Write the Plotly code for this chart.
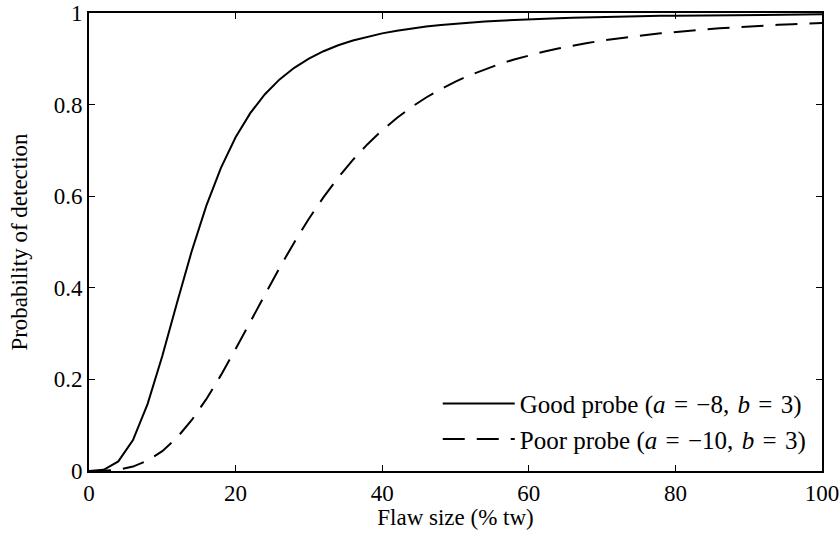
import plotly.graph_objects as go

flaw_size = [0, 2, 4, 6, 8, 10, 12, 14, 16, 18, 20, 22, 24, 26, 28, 30, 32, 34, 36, 38,
             40, 42, 44, 46, 48, 50, 52, 54, 56, 58, 60, 62, 64, 66, 68, 70, 72, 74, 76, 78,
             80, 82, 84, 86, 88, 90, 92, 94, 96, 98, 100]

pod_good = [0.0, 0.0027, 0.021, 0.0676, 0.1466, 0.2512, 0.367, 0.4793, 0.5788, 0.6618,
            0.7285, 0.7813, 0.8226, 0.855, 0.8804, 0.9006, 0.9166, 0.9295, 0.9399, 0.9485,
            0.9555, 0.9613, 0.9662, 0.9703, 0.9738, 0.9767, 0.9792, 0.9814, 0.9833, 0.985,
            0.9864, 0.9876, 0.9888, 0.9897, 0.9906, 0.9914, 0.9921, 0.9927, 0.9933, 0.9938,
            0.9942, 0.9946, 0.995, 0.9953, 0.9956, 0.9959, 0.9962, 0.9964, 0.9966, 0.9968, 0.997]

pod_poor = [0.0, 0.0004, 0.0029, 0.0097, 0.0227, 0.0434, 0.0727, 0.1108, 0.1568, 0.2093,
            0.2664, 0.3259, 0.3856, 0.4438, 0.4991, 0.5507, 0.598, 0.6409, 0.6793, 0.7136,
            0.744, 0.7708, 0.7945, 0.8155, 0.8339, 0.8502, 0.8646, 0.8773, 0.8886, 0.8986,
            0.9075, 0.9154, 0.9225, 0.9288, 0.9345, 0.9397, 0.9443, 0.9484, 0.9522, 0.9556,
            0.9588, 0.9616, 0.9642, 0.9665, 0.9687, 0.9707, 0.9725, 0.9742, 0.9757, 0.9771, 0.9784]

series_names = ["Good probe (<i>a</i>\u2004=\u2004−8,\u2004<i>b</i>\u2004=\u20043)",
                "Poor probe (<i>a</i>\u2004=\u2004−10,\u2004<i>b</i>\u2004=\u20043)"]

x_ticks = [0, 20, 40, 60, 80, 100]
y_ticks = [0, 0.2, 0.4, 0.6, 0.8, 1]
y_tick_labels = ["0", "0.2", "0.4", "0.6", "0.8", "1"]

FONT = "Liberation Serif"

fig = go.Figure()
fig.add_trace(go.Scatter(x=flaw_size, y=pod_good, mode="lines", name=series_names[0],
                         line=dict(color="black", width=2, dash="solid")))
fig.add_trace(go.Scatter(x=flaw_size, y=pod_poor, mode="lines", name=series_names[1],
                         line=dict(color="black", width=2, dash="22px,12px")))

axis_common = dict(showline=True, linecolor="black", linewidth=1.8, mirror="ticks",
                   ticks="inside", ticklen=6, tickwidth=1, tickcolor="black",
                   showgrid=False, zeroline=False, automargin=False,
                   tickfont=dict(family=FONT, size=23, color="black"))

fig.update_layout(
    width=840, height=535,
    margin=dict(l=89, r=18, t=13, b=64),
    paper_bgcolor="white", plot_bgcolor="white",
    font=dict(family=FONT, size=23, color="black"),
    xaxis=dict(range=[0, 100], tickvals=x_ticks,
               title=dict(text="Flaw size (% tw)", font=dict(family=FONT, size=23), standoff=2),
               **axis_common),
    yaxis=dict(range=[0, 1], tickvals=y_ticks, ticktext=y_tick_labels,
               title=dict(text="Probability of detection", font=dict(family=FONT, size=23), standoff=20),
               **axis_common),
    legend=dict(x=0.986, y=0.02, xanchor="right", yanchor="bottom",
                bgcolor="rgba(0,0,0,0)", borderwidth=0, itemwidth=72,
                font=dict(family=FONT, size=25, color="black"),
                tracegroupgap=0),
    showlegend=True,
)

fig.write_html("out.html")
